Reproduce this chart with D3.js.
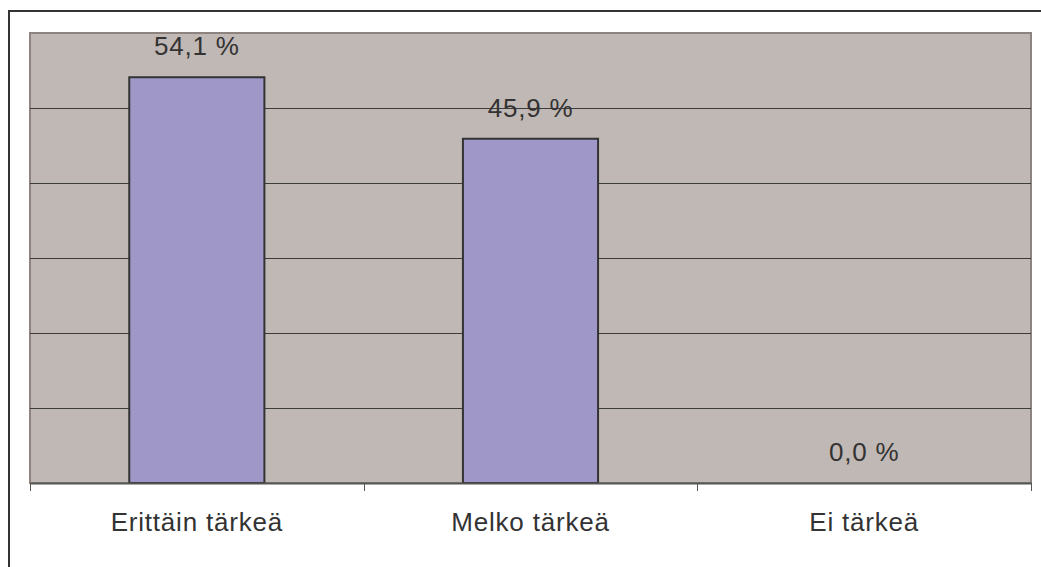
<!DOCTYPE html>
<html><head><meta charset="utf-8">
<script src="https://cdn.jsdelivr.net/npm/d3@7"></script>
<style>body{margin:0;background:#fff}svg{display:block}</style>
</head><body>
<svg id="c" width="1041" height="567"></svg>
<script>
const categories = ["Erittäin tärkeä", "Melko tärkeä", "Ei tärkeä"];
const values = [54.1, 45.9, 0.0];
const valueLabels = ["54,1 %", "45,9 %", "0,0 %"];
const yTicks = [0, 10, 20, 30, 40, 50, 60];

const svg = d3.select("#c");
const plot = {left: 30, right: 1031, top: 33, bottom: 483};

// outer frame
svg.append("rect").attr("x", 9).attr("y", 11).attr("width", 1060).attr("height", 600)
  .attr("fill", "none").attr("stroke", "#333").attr("stroke-width", 2);

const x = d3.scaleBand().domain(categories).range([plot.left, plot.right]).paddingInner(0.595).paddingOuter(0.2975);
const xc = d3.scaleBand().domain(categories).range([plot.left, plot.right]);
const y = d3.scaleLinear().domain([0, 60]).range([plot.bottom, plot.top]);

// plot area
svg.append("rect").attr("x", plot.left).attr("y", plot.top)
  .attr("width", plot.right - plot.left).attr("height", plot.bottom - plot.top)
  .attr("fill", "#c0b8b4").attr("stroke", "#8d8480").attr("stroke-width", 2);

// gridlines
svg.append("g").selectAll("line").data(yTicks.filter(t => t > 0 && t < 60)).join("line")
  .attr("x1", plot.left).attr("x2", plot.right)
  .attr("y1", d => Math.round(y(d)) + 0.5).attr("y2", d => Math.round(y(d)) + 0.5)
  .attr("stroke", "#3c3c3c").attr("stroke-width", 1);

// bars
svg.append("g").selectAll("rect").data(values.map((v, i) => ({c: categories[i], v}))).join("rect")
  .attr("x", d => x(d.c)).attr("width", x.bandwidth())
  .attr("y", d => y(d.v)).attr("height", d => y(0) - y(d.v))
  .attr("fill", "#9e97c8").attr("stroke", d => d.v > 0 ? "#333" : "none").attr("stroke-width", 2);

// x axis
const axis = d3.axisBottom(xc).tickSize(0).tickFormat("");
const ax = svg.append("g").attr("transform", `translate(0,${plot.bottom})`).call(axis);
ax.select(".domain").attr("stroke", "#555").attr("stroke-width", 2);
const edges = [0, 1, 2, 3].map(i => plot.left + i * xc.step());
svg.append("g").selectAll("line").data(edges).join("line")
  .attr("x1", d => Math.round(d) + 0.5).attr("x2", d => Math.round(d) + 0.5)
  .attr("y1", plot.bottom).attr("y2", plot.bottom + 8)
  .attr("stroke", "#555").attr("stroke-width", 1);

// category labels
svg.append("g").selectAll("text").data(categories).join("text")
  .attr("x", d => xc(d) + xc.bandwidth() / 2).attr("y", 531)
  .attr("text-anchor", "middle").attr("font-family", "Liberation Sans, Arial, sans-serif")
  .attr("font-size", 26).attr("letter-spacing", 0.8).attr("fill", "#333").text(d => d);

// value labels
svg.append("g").selectAll("text").data(values).join("text")
  .attr("x", (d, i) => xc(categories[i]) + xc.bandwidth() / 2).attr("y", d => y(d) - 22)
  .attr("text-anchor", "middle").attr("font-family", "Liberation Sans, Arial, sans-serif")
  .attr("font-size", 26).attr("letter-spacing", 0.8).attr("fill", "#333").text((d, i) => valueLabels[i]);
</script>
</body></html>
